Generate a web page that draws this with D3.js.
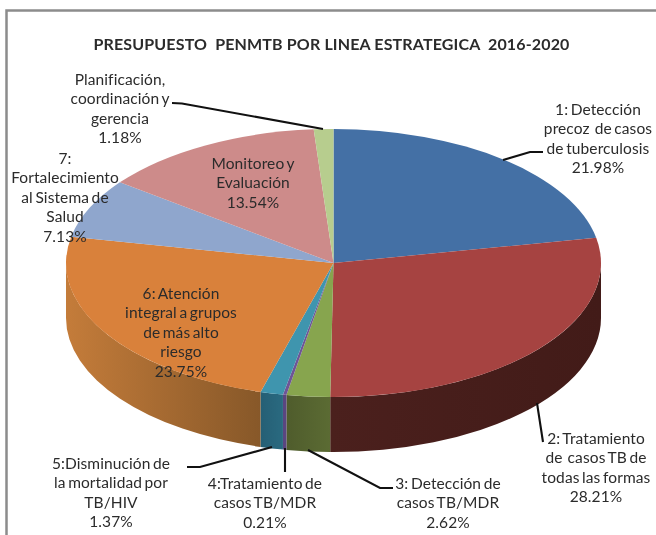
<!DOCTYPE html>
<html>
<head>
<meta charset="utf-8">
<script src="https://cdn.jsdelivr.net/npm/d3@7"></script>
<style>
  html, body { margin: 0; padding: 0; background: #fff; }
  svg { filter: blur(0.4px); }
  text { font-family: Lato, "Open Sans", sans-serif; fill: #2b2b2b; white-space: pre; }
</style>
</head>
<body>
<div id="chart"></div>
<script>
// data
const categories = [
  "1: Detección precoz de casos de tuberculosis",
  "2: Tratamiento de casos TB de todas las formas",
  "3: Detección de casos TB/MDR",
  "4: Tratamiento de casos TB/MDR",
  "5: Disminución de la mortalidad por TB/HIV",
  "6: Atención integral a grupos de más alto riesgo",
  "7: Fortalecimiento al Sistema de Salud",
  "Monitoreo y Evaluación",
  "Planificación, coordinación y gerencia"
];
const values = [21.98, 28.21, 2.62, 0.21, 1.37, 23.75, 7.13, 13.54, 1.18];
const labelLines = [
  ["1: Detección", "precoz  de casos", "de tuberculosis"],
  ["2: Tratamiento", "de  casos TB de", "todas las formas"],
  ["3: Detección de", "casos TB/MDR"],
  ["4:Tratamiento de", "casos TB/MDR"],
  ["5:Disminución de", "la mortalidad por", "TB/HIV"],
  ["6: Atención", "integral a grupos", "de más alto", "riesgo"],
  ["7:", "Fortalecimiento", "al Sistema de", "Salud"],
  ["Monitoreo y", "Evaluación"],
  ["Planificación,", "coordinación y", "gerencia"]
];
const title = "PRESUPUESTO  PENMTB POR LINEA ESTRATEGICA  2016-2020";

// styling, same order as the categories
const topColors = ["#4470a5", "#a64341", "#87a54e", "#6e5596", "#3f95ae", "#d9813b", "#8fa6cd", "#cd8b8a", "#b7cd8e"];
const sideColors = [
  ["#2f4e74", "#2f4e74"], ["#4b201d", "#421b18"], ["#4f5c2c", "#5b6b33"], ["#5a4680", "#5a4680"],
  ["#255f75", "#2a6a80"], ["#c47c3a", "#875829"], ["#6f819f", "#6f819f"], ["#a06c6b", "#a06c6b"], ["#8fa06e", "#8fa06e"]
];

const width = 656, height = 535;
const cx = 333.5, cy = 263, rx = 267.5, ry = 134, depth = 55;
const lineH = 19.6;

// label centre x, first line y, and leader polyline, same order as the categories
const labelPos = [
  { x: 598, y: 114.5, leader: [[543, 152], [530, 152], [503, 160]] },
  { x: 596, y: 443.5, leader: [[543, 442], [537, 403]] },
  { x: 448, y: 488.5, leader: [[393, 488], [380, 488], [308, 450]] },
  { x: 265, y: 488.5, leader: [[285, 472], [285, 448]] },
  { x: 111, y: 468.5, leader: [[187, 467], [200, 467], [272, 447]] },
  { x: 181, y: 298.5, leader: null },
  { x: 65, y: 163.5, leader: null },
  { x: 253, y: 168.5, leader: null },
  { x: 120, y: 84.5, leader: [[172, 103], [182, 103.5], [323, 129]] }
];

const svg = d3.select("#chart").append("svg")
  .attr("width", width)
  .attr("height", height)
  .style("display", "block");

// chart frame
svg.append("path")
  .attr("d", `M6.5,${height} V10.5 H${width}`)
  .attr("fill", "none")
  .attr("stroke", "#8c8c8c")
  .attr("stroke-width", 2.5);

svg.append("text")
  .attr("x", 331.5)
  .attr("y", 49.5)
  .attr("text-anchor", "middle")
  .attr("font-size", 16)
  .attr("font-weight", 700)
  .attr("fill", "#1a1a1a")
  .attr("letter-spacing", 0.15)
  .text(title);

const pie = d3.pie().sort(null).value(d => d);
const arcs = pie(values);

// angle is clockwise from 12 o'clock, as in d3.pie
const pt = a => [cx + rx * Math.sin(a), cy - ry * Math.cos(a)];

const defs = svg.append("defs");

// side wall: only the part of each slice on the front half of the ellipse
const sides = arcs.map((d, i) => ({
  i,
  a0: Math.max(d.startAngle, Math.PI / 2),
  a1: Math.min(d.endAngle, Math.PI * 1.5)
})).filter(s => s.a1 > s.a0);

sides.forEach(s => {
  const x0 = pt(s.a0)[0], x1 = pt(s.a1)[0];
  const g = defs.append("linearGradient")
    .attr("id", `side-${s.i}`)
    .attr("gradientUnits", "userSpaceOnUse")
    .attr("x1", Math.min(x0, x1)).attr("x2", Math.max(x0, x1))
    .attr("y1", 0).attr("y2", 0);
  g.append("stop").attr("offset", 0).attr("stop-color", sideColors[s.i][x0 < x1 ? 1 : 0]);
  g.append("stop").attr("offset", 1).attr("stop-color", sideColors[s.i][x0 < x1 ? 0 : 1]);
});

svg.append("g").selectAll("path")
  .data(sides)
  .join("path")
    .attr("fill", s => `url(#side-${s.i})`)
    .attr("d", s => {
      const [x0, y0] = pt(s.a0), [x1, y1] = pt(s.a1);
      return `M${x0},${y0} A${rx},${ry} 0 0 1 ${x1},${y1} V${y1 + depth} A${rx},${ry} 0 0 0 ${x0},${y0 + depth} Z`;
    });

// top face: a flat d3.arc squashed into the ellipse
const arc = d3.arc().innerRadius(0).outerRadius(rx);
svg.append("g")
  .attr("transform", `translate(${cx},${cy}) scale(1,${ry / rx})`)
  .selectAll("path")
  .data(arcs)
  .join("path")
    .attr("d", arc)
    .attr("fill", (d, i) => topColors[i]);

// leader lines
const line = d3.line();
svg.append("g").selectAll("path")
  .data(labelPos.filter(d => d.leader))
  .join("path")
    .attr("d", d => line(d.leader))
    .attr("fill", "none")
    .attr("stroke", "#111")
    .attr("stroke-width", 2.1);

// labels: text lines plus the percentage
const labels = svg.append("g")
  .attr("text-anchor", "middle")
  .attr("font-size", 15.5)
  .attr("word-spacing", -1.5)
  .attr("letter-spacing", 0.1)
  .selectAll("text")
  .data(values)
  .join("text")
    .attr("x", (d, i) => labelPos[i].x)
    .attr("y", (d, i) => labelPos[i].y);

labels.each(function(v, i) {
  const t = d3.select(this);
  labelLines[i].concat(d3.format(".2f")(v) + "%").forEach((s, k) => {
    t.append("tspan")
      .attr("x", labelPos[i].x)
      .attr("y", labelPos[i].y + k * lineH)
      .text(s);
  });
});
</script>
</body>
</html>
